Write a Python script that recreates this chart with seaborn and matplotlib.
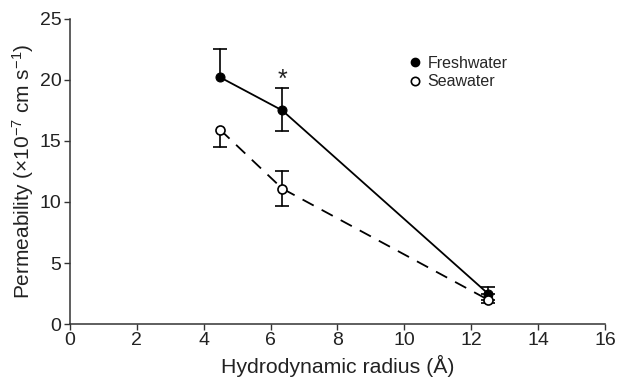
import numpy as np
import pandas as pd
import matplotlib
matplotlib.use("Agg")
import matplotlib.pyplot as plt
import seaborn as sns

# Hydrodynamic radius (A) of the probes
radius = [4.5, 6.35, 12.5]

# Permeability (x10^-7 cm s^-1), mean and error bars (lower, upper)
fresh_mean = [20.2, 17.5, 2.5]
fresh_err_lo = [0.0, 1.7, 0.5]
fresh_err_hi = [2.3, 1.8, 0.5]

sea_mean = [15.9, 11.1, 2.0]
sea_err_lo = [1.4, 1.4, 0.3]
sea_err_hi = [0.0, 1.4, 0.5]

sns.set_style("ticks")
plt.rcParams['font.family'] = ['Liberation Sans', 'DejaVu Sans']
plt.rcParams['mathtext.fontset'] = 'custom'
plt.rcParams['mathtext.rm'] = 'Liberation Sans'
plt.rcParams['mathtext.it'] = 'Liberation Sans:italic'

df = pd.DataFrame({
    "radius": radius * 2,
    "perm": fresh_mean + sea_mean,
    "water": ["Freshwater"] * 3 + ["Seawater"] * 3,
})

fig, ax = plt.subplots(figsize=(6.18, 3.84), dpi=100)
fig.subplots_adjust(left=0.113, right=0.979, bottom=0.156, top=0.951)

sns.lineplot(data=df[df.water == "Freshwater"], x="radius", y="perm", ax=ax,
             color="black", lw=1.3, marker="o", markersize=6.5,
             markerfacecolor="black", markeredgecolor="black", zorder=3)
sns.lineplot(data=df[df.water == "Seawater"], x="radius", y="perm", ax=ax,
             color="black", lw=1.3, marker="o",
             markersize=6.5, markerfacecolor="white", markeredgecolor="black",
             markeredgewidth=1.2, zorder=3)
ax.lines[-1].set_dashes((7, 5))


def error_bars(mean, lo, hi):
    # draw only the non-zero half of each bar, with its cap
    for x, m, l, h in zip(radius, mean, lo, hi):
        for d in (-l, h):
            if d != 0:
                ax.plot([x, x], [m, m + d], color="black", lw=1.2, zorder=2)
                ax.plot([x], [m + d], marker="_", markersize=10,
                        markeredgewidth=1.2, color="black", zorder=2)


error_bars(fresh_mean, fresh_err_lo, fresh_err_hi)
error_bars(sea_mean, sea_err_lo, sea_err_hi)

# significance marker
ax.text(6.35, 20.0, "*", ha="center", va="center", fontsize=18, color="#222222")

# legend
h1, = ax.plot([], [], "o", color="black", markersize=6)
h2, = ax.plot([], [], "o", markerfacecolor="white", markeredgecolor="black",
              markeredgewidth=1.2, markersize=6)
ax.legend([h1, h2], ["Freshwater", "Seawater"], loc="upper left",
          bbox_to_anchor=(0.6, 0.925), frameon=False, fontsize=11.5,
          handletextpad=0.2, labelspacing=0.2, handlelength=1.2)

ax.set_xlim(0, 16)
ax.set_ylim(0, 25)
ax.set_xticks(np.arange(0, 17, 2))
ax.set_yticks(np.arange(0, 26, 5))
ax.tick_params(labelsize=14, length=4, width=1, color="#333333", labelcolor="#222222", pad=2)
ax.set_xlabel("Hydrodynamic radius (Å)", fontsize=15.3, color="#222222", labelpad=4)
ax.set_ylabel("Permeability (×10$^{-7}$ cm s$^{-1}$)", fontsize=15,
              color="#222222", labelpad=3)
sns.despine(ax=ax)
for s in ["left", "bottom"]:
    ax.spines[s].set_color("#333333")
    ax.spines[s].set_linewidth(1.1)

fig.savefig("out.png", dpi=100)
